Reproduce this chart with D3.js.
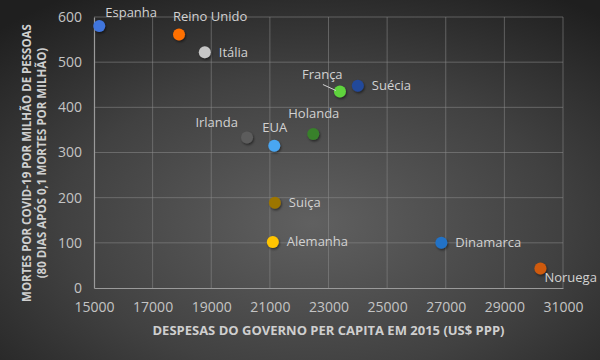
<!DOCTYPE html>
<html><head><meta charset="utf-8">
<script src="https://cdn.jsdelivr.net/npm/d3@7"></script>
<style>html,body{margin:0;padding:0;background:#2b2b2b;}svg{display:block;}</style>
</head><body><div id="chart"></div>
<script>
const countries = ["Espanha","Reino Unido","Itália","Irlanda","EUA","França","Suécia","Holanda","Suiça","Alemanha","Dinamarca","Noruega"];
const spending = [15180,17900,18780,20220,21150,23390,24000,22480,21170,21100,26850,30230];
const deaths = [580,561,522,333,315,435,448,341,189,102,100,43];
const xTicks = [15000,17000,19000,21000,23000,25000,27000,29000,31000];
const yTicks = [0,100,200,300,400,500,600];

const colors = ["#3f74dc","#ff6f00","#c6c6c6","#5c5c5c","#4aa6f2","#5ed33d","#22489a","#38802a","#9c7500","#ffc400","#2272c6","#cf5a0c"];
// label placement keywords (style)
const place = ["ur","ur2","r","ul","u","fr","r","uh","r","r","r","br"];

const W=600,H=360, m={l:94,r:37,t:17,b:72};
const svg=d3.select("#chart").append("svg").attr("width",W).attr("height",H);
const defs=svg.append("defs");
const g0=defs.append("radialGradient").attr("id","bg").attr("cx","52%").attr("cy","62%").attr("r","75%");
g0.append("stop").attr("offset","0%").attr("stop-color","#606060");
g0.append("stop").attr("offset","55%").attr("stop-color","#414141");
g0.append("stop").attr("offset","100%").attr("stop-color","#1f1f1f");
const f=defs.append("filter").attr("id","sh").attr("x","-50%").attr("y","-50%").attr("width","200%").attr("height","200%");
f.append("feDropShadow").attr("dx",1).attr("dy",1.5).attr("stdDeviation",1.2).attr("flood-color","#000").attr("flood-opacity",0.5);
svg.append("rect").attr("width",W).attr("height",H).attr("fill","url(#bg)");

const x=d3.scaleLinear().domain([15000,31000]).range([m.l,W-m.r]);
const y=d3.scaleLinear().domain([0,600]).range([H-m.b,m.t]);
const font="'Open Sans', 'Noto Sans', sans-serif";

// grid
svg.append("g").selectAll("line").data(xTicks.slice(1)).join("line")
 .attr("x1",d=>x(d)).attr("x2",d=>x(d)).attr("y1",y(600)).attr("y2",y(0))
 .attr("stroke","#8a8a8a").attr("stroke-opacity",0.55).attr("stroke-width",1);
svg.append("g").selectAll("line").data(yTicks.slice(1)).join("line")
 .attr("x1",x(15000)).attr("x2",x(31000)).attr("y1",d=>y(d)).attr("y2",d=>y(d))
 .attr("stroke","#8a8a8a").attr("stroke-opacity",0.55).attr("stroke-width",1);

// axes
const xa=svg.append("g").attr("transform",`translate(0,${y(0)})`)
 .call(d3.axisBottom(x).tickValues(xTicks).tickFormat(d3.format("d")).tickSize(0).tickPadding(14));
const ya=svg.append("g").attr("transform",`translate(${x(15000)},0)`)
 .call(d3.axisLeft(y).tickValues(yTicks).tickSize(0).tickPadding(12));
[xa,ya].forEach(a=>{a.select(".domain").attr("stroke","#9a9a9a").attr("stroke-width",1.2);
 a.selectAll("text").attr("fill","#c4c4c4").attr("font-size",14).attr("font-family",font);});

// axis titles
svg.append("text").attr("x",(x(15000)+x(31000))/2).attr("y",335).attr("text-anchor","middle")
 .attr("fill","#cfcfcf").attr("font-weight","bold").attr("font-size",13).attr("font-family",font)
 .text("DESPESAS DO GOVERNO PER CAPITA EM 2015 (US$ PPP)");
const yt=svg.append("text").attr("transform",`translate(31,163) rotate(-90)`)
 .attr("text-anchor","middle").attr("fill","#cfcfcf").attr("font-weight","bold").attr("font-size",11.5).attr("font-family",font);
yt.append("tspan").attr("x",0).attr("dy",0).text("MORTES POR COVID-19 POR MILHÃO DE PESSOAS");
yt.append("tspan").attr("x",0).attr("dy",15).text("(80 DIAS APÓS 0,1 MORTES POR MILHÃO)");

// points
const idx=d3.range(countries.length);
svg.append("g").selectAll("circle").data(idx).join("circle")
 .attr("cx",i=>x(spending[i])).attr("cy",i=>y(deaths[i])).attr("r",6)
 .attr("fill",i=>colors[i]).attr("filter","url(#sh)");

// labels
const off={ur:[6,-14,"start"],ur2:[-6,-18,"start"],r:[14,0,"start"],ul:[-9,-15,"end"],u:[-12,-18,"start"],
 uh:[-25,-21,"start"],fr:[-38,-17,"start"],br:[4,9,"start"]};
const lg=svg.append("g");
idx.forEach(i=>{
 const [dx,dy,anc]=off[place[i]];
 const px=x(spending[i]),py=y(deaths[i]);
 lg.append("text").attr("x",px+dx).attr("y",py+dy).attr("dy","0.35em").attr("text-anchor",anc)
  .attr("fill","#d2d2d2").attr("font-size",13).attr("font-family",font).text(countries[i]);
 if(place[i]==="fr"){
  lg.append("line").attr("x1",px-17).attr("y1",py-7).attr("x2",px-4).attr("y2",py-1)
   .attr("stroke","#d2d2d2").attr("stroke-width",1);
 }
});
</script></body></html>
